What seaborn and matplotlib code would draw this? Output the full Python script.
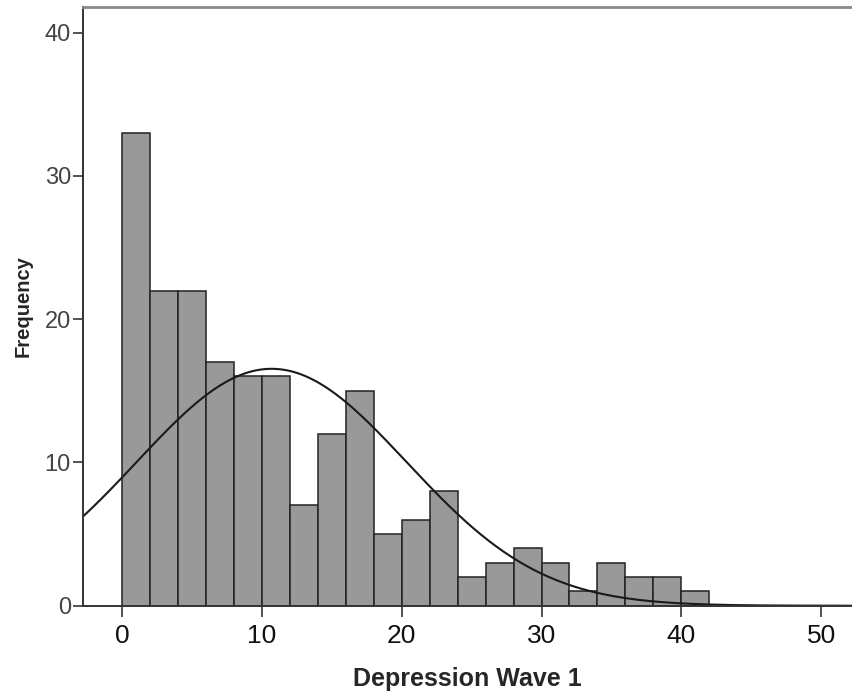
import numpy as np
import pandas as pd
import seaborn as sns
import matplotlib.pyplot as plt

sns.set_style('white')
plt.rcParams['font.family'] = ['Liberation Sans', 'DejaVu Sans']

# histogram bins (width 2) and counts
bin_edges = list(range(0, 44, 2))
counts = [33, 22, 22, 17, 16, 16, 7, 12, 15, 5, 6, 8, 2, 3, 4, 3, 1, 3, 2, 2, 1]
bin_mids = [e + 1 for e in bin_edges[:-1]]

# fitted normal curve (mean / sd)
mean_est = 10.7
sd_est = 9.65
n_total = sum(counts)
bin_width = 2

df = pd.DataFrame({'score': bin_mids, 'count': counts})

xs = np.linspace(-2.75, 52.2, 400)
ys = n_total * bin_width / (sd_est * np.sqrt(2 * np.pi)) * np.exp(-(xs - mean_est) ** 2 / (2 * sd_est ** 2))
curve = pd.DataFrame({'x': xs, 'y': ys})

fig = plt.figure(figsize=(8.52, 6.98), dpi=100)
ax = fig.add_axes([0.098, 0.1322, 0.902, 0.858])

sns.histplot(data=df, x='score', weights='count', bins=bin_edges,
             color='#999999', edgecolor='#222222', linewidth=1.1, alpha=1, ax=ax)
sns.lineplot(data=curve, x='x', y='y', color='#1a1a1a', linewidth=1.5, ax=ax)

ax.set_xlim(-2.75, 52.2)
ax.set_ylim(0, 41.8)
ax.set_xticks([0, 10, 20, 30, 40, 50])
ax.set_yticks([0, 10, 20, 30, 40])

ax.tick_params(axis='x', direction='out', length=8, width=1.3, color='#444444',
               labelsize=19, labelcolor='#111111', pad=5, bottom=True)
ax.tick_params(axis='y', direction='out', length=7.5, width=1.3, color='#444444',
               labelsize=17, labelcolor='#444444', pad=1.5, left=True)

ax.set_xlabel('Depression Wave 1', fontsize=18, fontweight='bold', labelpad=14)
ax.set_ylabel('Frequency', fontsize=14.5, fontweight='bold', labelpad=9)

for side in ['left', 'bottom']:
    ax.spines[side].set_color('#333333')
    ax.spines[side].set_linewidth(1.4)
ax.spines['top'].set_color('#888888')
ax.spines['top'].set_linewidth(2)
ax.spines['right'].set_visible(False)

fig.savefig('out.png', dpi=100)
